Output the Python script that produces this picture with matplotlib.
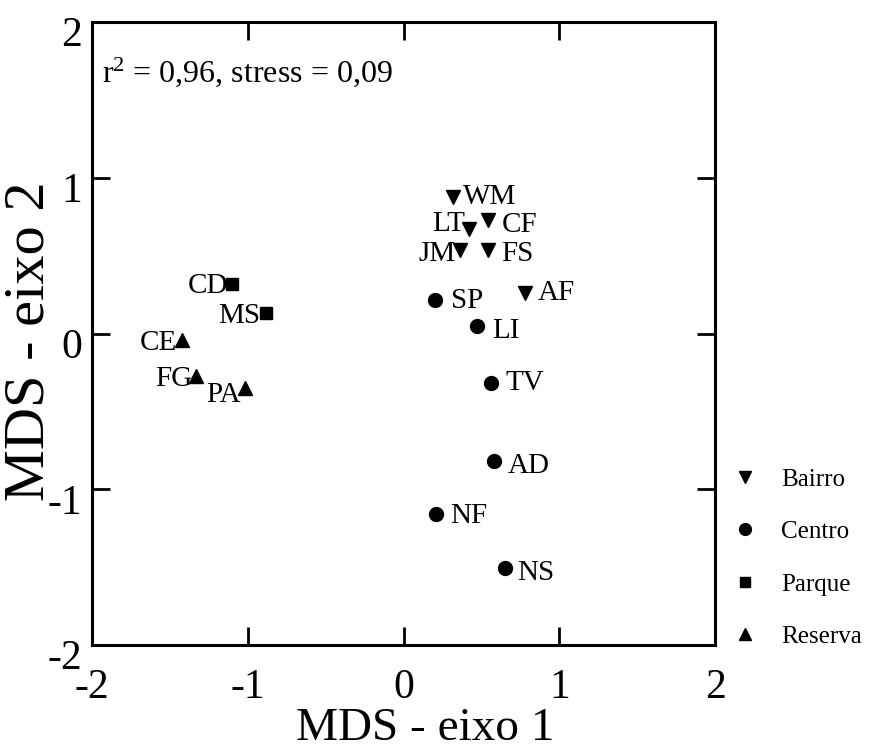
import matplotlib
matplotlib.use("Agg")
import matplotlib.pyplot as plt
import matplotlib.transforms as mtransforms

plt.rcParams['font.family'] = ['Liberation Serif', 'DejaVu Serif']
plt.rcParams['mathtext.fontset'] = 'custom'
plt.rcParams['mathtext.rm'] = 'Liberation Serif'
plt.rcParams['mathtext.it'] = 'Liberation Serif:italic'

# ---- data ----
bairro_labels = ["WM", "LT", "CF", "JM", "FS", "AF"]
bairro_x = [0.32, 0.42, 0.54, 0.36, 0.54, 0.78]
bairro_y = [0.875, 0.67, 0.73, 0.535, 0.535, 0.26]

centro_labels = ["SP", "LI", "TV", "AD", "NF", "NS"]
centro_x = [0.205, 0.47, 0.56, 0.58, 0.21, 0.65]
centro_y = [0.215, 0.045, -0.32, -0.82, -1.16, -1.505]

parque_labels = ["CD", "MS"]
parque_x = [-1.10, -0.885]
parque_y = [0.32, 0.13]

reserva_labels = ["CE", "FG", "PA"]
reserva_x = [-1.42, -1.33, -1.02]
reserva_y = [-0.04, -0.27, -0.35]

ticks = [-2, -1, 0, 1, 2]
annot_text = r"r$^2$ = 0,96, stress = 0,09"
xlabel = "MDS - eixo 1"
ylabel = "MDS - eixo 2"

# label offsets (points), alignment
label_style = {
    "WM": ((7, 0), "left"), "LT": ((-3, 4), "right"), "CF": ((10, -3.5), "left"),
    "JM": ((-3, -3), "right"), "FS": ((10, -3), "left"), "AF": ((9, 0), "left"),
    "SP": ((11, -1), "left"), "LI": ((11, -3.5), "left"), "TV": ((11, 0), "left"),
    "AD": ((10, -3.5), "left"), "NF": ((10, -1.5), "left"), "NS": ((9, -3.5), "left"),
    "CD": ((-3, -1.5), "right"), "MS": ((-4, -2), "right"),
    "CE": ((-3.5, -2), "right"), "FG": ((-3, -2.5), "right"), "PA": ((-2.5, -5), "right"),
}

fig = plt.figure(figsize=(8.8, 7.49), dpi=100)
ax = fig.add_axes([92/880, 1-645/749, (715-92)/880, (645-22)/749])

groups = [
    ("Bairro", bairro_labels, bairro_x, bairro_y, "v", 9.5),
    ("Centro", centro_labels, centro_x, centro_y, "o", 10),
    ("Parque", parque_labels, parque_x, parque_y, "s", 8.5),
    ("Reserva", reserva_labels, reserva_x, reserva_y, "^", 9.5),
]
handles = []
for name, labs, xs, ys, mk, ms in groups:
    ax.plot(xs, ys, linestyle="none", marker=mk, markersize=ms, color="black")
    h, = ax.plot([], [], linestyle="none", marker=mk, markersize=ms*0.85, color="black", label=name)
    handles.append(h)
    for lab, x, y in zip(labs, xs, ys):
        off, ha = label_style[lab]
        ax.annotate(lab, (x, y), xytext=off, textcoords="offset points",
                    ha=ha, va="center", fontsize=21)

ax.set_xlim(-2, 2)
ax.set_ylim(-2, 2)
ax.set_xticks(ticks)
ax.set_yticks(ticks)
ax.set_xticklabels([str(t) for t in ticks])
ax.set_yticklabels([str(t) for t in ticks])
ax.tick_params(axis="both", direction="in", length=13, width=2, labelsize=30,
               top=True, right=True)
ax.tick_params(axis="x", pad=17)
ax.tick_params(axis="y", pad=7)
for sp in ax.spines.values():
    sp.set_linewidth(2.2)

# shift y tick labels slightly downward
offset = mtransforms.ScaledTranslation(0, -7/72, fig.dpi_scale_trans)
for lab in ax.get_yticklabels():
    lab.set_transform(lab.get_transform() + offset)

ax.set_xlabel(xlabel, fontsize=34, va="center")
ax.xaxis.set_label_coords(0.5345, -0.134)
ax.set_ylabel(ylabel, fontsize=42, va="center")
ax.yaxis.set_label_coords(-0.1, 0.488)

ax.text(0.016, 0.92, annot_text, transform=ax.transAxes, fontsize=23,
        ha="left", va="center")

fig.legend(handles=handles, loc="upper left", bbox_to_anchor=(722.5/880, 1-458/749),
           frameon=False, fontsize=18, labelspacing=1.2, handlelength=1.0,
           handletextpad=0.94, borderaxespad=0)

fig.savefig("out.png", dpi=100)
